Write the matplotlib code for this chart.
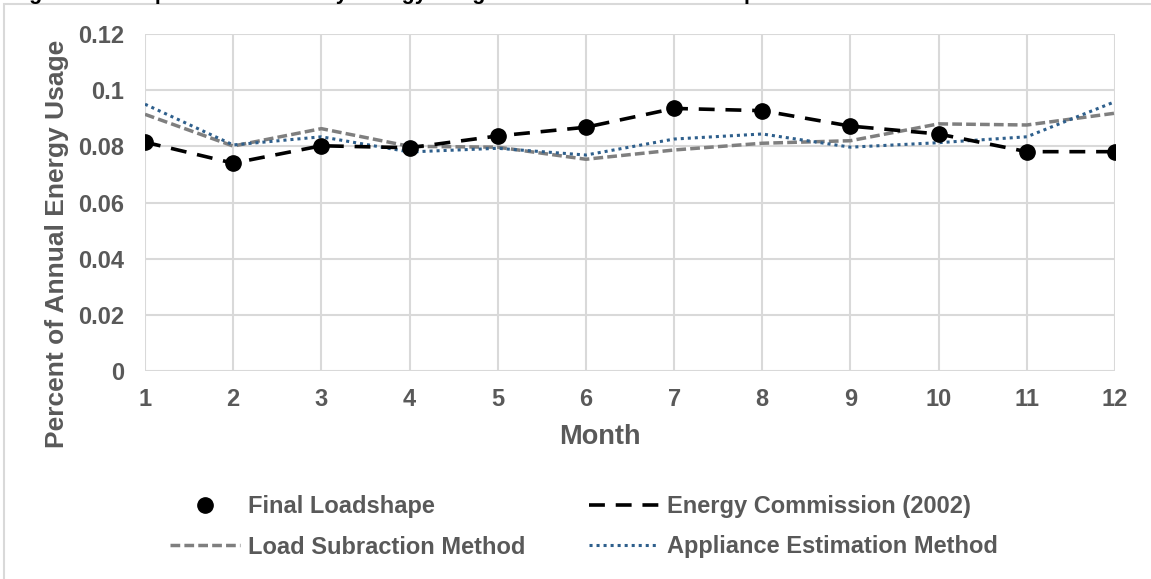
import matplotlib.pyplot as plt
from matplotlib.lines import Line2D
from matplotlib.patches import Rectangle

months = [1, 2, 3, 4, 5, 6, 7, 8, 9, 10, 11, 12]
final_loadshape = [0.0815, 0.0740, 0.0802, 0.0795, 0.0837, 0.0868, 0.0935, 0.0927, 0.0872, 0.0844, 0.0781, 0.0781]
energy_commission = [0.0815, 0.0740, 0.0802, 0.0795, 0.0837, 0.0868, 0.0935, 0.0927, 0.0872, 0.0844, 0.0781, 0.0781]
load_subtraction = [0.0914, 0.0801, 0.0863, 0.0800, 0.0797, 0.0754, 0.0787, 0.0811, 0.0820, 0.0880, 0.0876, 0.0918]
appliance_estimation = [0.0950, 0.0805, 0.0834, 0.0780, 0.0793, 0.0769, 0.0826, 0.0844, 0.0797, 0.0813, 0.0834, 0.0959]
y_ticks = [0, 0.02, 0.04, 0.06, 0.08, 0.1, 0.12]
y_labels = ['0', '0.02', '0.04', '0.06', '0.08', '0.1', '0.12']

plt.rcParams['font.family'] = ['Liberation Sans', 'DejaVu Sans']
plt.rcParams['font.weight'] = 'bold'
TXT = '#595959'
GRID = '#d9d9d9'

# line styles
LOAD_STYLE = dict(color='#7f7f7f', linewidth=2.5, linestyle=(0, (2.8, 1.2)))
APP_STYLE = dict(color='#2e5f8c', linewidth=2.2, linestyle=(0, (1, 1.3)))
EC_STYLE = dict(color='black', linewidth=2.6, linestyle=(0, (4.4, 3.0)))
FINAL_STYLE = dict(linestyle='none', marker='o', markersize=11, color='black')

W, H = 1151, 579
fig = plt.figure(figsize=(W / 100, H / 100), dpi=100)

# frame of the chart area (runs off the right and bottom edges)
fig.patches.append(Rectangle((4 / W, -0.05), 1.1, 1 - 4 / H + 0.05, transform=fig.transFigure,
                             fill=False, edgecolor=GRID, linewidth=1.5))
# title, clipped above the frame as in the source
fig.text(10 / W, 1 + 1 / H, 'Figure 4: Comparison of Monthly Energy Usage Estimates and Loadshape',
         ha='left', va='baseline', fontsize=15.5, color='black', fontweight='bold')

ax = fig.add_axes([145 / W, 1 - 371 / H, (1115 - 145) / W, (371 - 34) / H])

ax.plot(months, load_subtraction, **LOAD_STYLE)
ax.plot(months, appliance_estimation, **APP_STYLE)
ax.plot(months, energy_commission, **EC_STYLE)
ax.plot(months, final_loadshape, **FINAL_STYLE)

ax.set_xlim(1, 12)
ax.set_ylim(0, 0.12)
ax.set_xticks(months)
ax.set_yticks(y_ticks)
ax.set_yticklabels(y_labels)
ax.grid(True, color=GRID, linewidth=1.5)
ax.set_axisbelow(True)
for s in ax.spines.values():
    s.set_visible(False)
ax.tick_params(length=0, labelsize=17, labelcolor=TXT)
ax.tick_params(axis='y', pad=15)
ax.tick_params(axis='x', pad=12)
for lab in ax.get_xticklabels() + ax.get_yticklabels():
    lab.set_fontweight('bold')

fig.text(600 / W, 1 - 437 / H, 'Month', ha='center', va='center', fontsize=19.5, color=TXT, fontweight='bold')
fig.text(57 / W, 1 - 244 / H, 'Percent of Annual Energy Usage', ha='center', va='center',
         rotation=90, fontsize=19, color=TXT, fontweight='bold')

# legend, two columns
h_final = Line2D([], [], **FINAL_STYLE)
h_load = Line2D([], [], **LOAD_STYLE)
h_energy = Line2D([], [], **EC_STYLE)
h_app = Line2D([], [], **APP_STYLE)

common = dict(loc='center left', frameon=False, borderpad=0, borderaxespad=0,
              handlelength=2.96, handletextpad=0.34, labelspacing=0.72,
              prop={'weight': 'bold', 'size': 17})
leg1 = fig.legend([h_final, h_load], ['Final Loadshape', 'Load Subraction Method'],
                  bbox_to_anchor=(170 / W, 1 - 527 / H), **common)
leg2 = fig.legend([h_energy, h_app], ['Energy Commission (2002)', 'Appliance Estimation Method'],
                  bbox_to_anchor=(589 / W, 1 - 527 / H), **common)
for leg in (leg1, leg2):
    for t in leg.get_texts():
        t.set_color(TXT)

fig.savefig('out.png', dpi=100)
